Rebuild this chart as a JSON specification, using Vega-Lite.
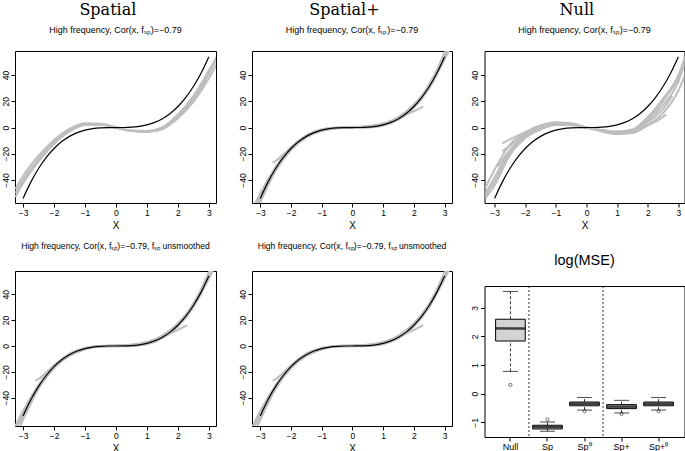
{
  "$schema": "https://vega.github.io/schema/vega-lite/v6.json",
  "background": "white",
  "padding": {"left": 0, "top": 1, "right": 0, "bottom": 0},
  "config": {
    "view": {"stroke": "black", "strokeWidth": 1},
    "axis": {"domain": false, "grid": false, "tickColor": "black", "tickSize": 4, "labelColor": "black", "labelFont": "Liberation Sans", "labelFontSize": 8.5, "labelOverlap": false, "titleFont": "Liberation Sans", "titleFontWeight": "normal", "titleColor": "black", "titleFontSize": 10},
    "axisY": {"labelAngle": -90, "labelPadding": 1, "labelOverlap": false},
    "axisX": {"labelPadding": 1.5, "titlePadding": 3, "labelAngle": 0, "labelOverlap": false},
    "title": {"font": "Liberation Sans", "fontSize": 8.6, "fontWeight": "normal", "color": "black", "anchor": "middle", "frame": "group", "subtitleFont": "Liberation Sans", "subtitleFontSize": 9, "subtitleColor": "black"}
  },
  "datasets": {
    "truth": [{"x":-3,"y":-54},{"x":-2.75,"y":-41.6},{"x":-2.5,"y":-31.25},{"x":-2.25,"y":-22.8},{"x":-2,"y":-16},{"x":-1.75,"y":-10.7},{"x":-1.5,"y":-6.75},{"x":-1.25,"y":-3.9},{"x":-1,"y":-2},{"x":-0.75,"y":-0.84},{"x":-0.5,"y":-0.25},{"x":-0.25,"y":-0.03},{"x":0,"y":0},{"x":0.25,"y":0.03},{"x":0.5,"y":0.25},{"x":0.75,"y":0.84},{"x":1,"y":2},{"x":1.25,"y":3.9},{"x":1.5,"y":6.75},{"x":1.75,"y":10.7},{"x":2,"y":16},{"x":2.25,"y":22.8},{"x":2.5,"y":31.25},{"x":2.75,"y":41.6},{"x":3,"y":54}],
    "sp": [
      {"r":1,"x":-3.25,"y":-50},{"r":1,"x":-3,"y":-40},{"r":1,"x":-2.5,"y":-24},{"r":1,"x":-2,"y":-11},{"r":1,"x":-1.5,"y":-2},{"r":1,"x":-1,"y":2.6},{"r":1,"x":-0.5,"y":2.5},{"r":1,"x":0,"y":0},{"r":1,"x":0.5,"y":-2.5},{"r":1,"x":1,"y":-3},{"r":1,"x":1.5,"y":-0.5},{"r":1,"x":2,"y":8.5},{"r":1,"x":2.5,"y":22},{"r":1,"x":3,"y":41},{"r":1,"x":3.25,"y":52},
      {"r":2,"x":-3.25,"y":-47},{"r":2,"x":-3,"y":-37},{"r":2,"x":-2.5,"y":-21.5},{"r":2,"x":-2,"y":-9.5},{"r":2,"x":-1.5,"y":-1},{"r":2,"x":-1,"y":3.2},{"r":2,"x":-0.5,"y":2.8},{"r":2,"x":0,"y":0.2},{"r":2,"x":0.5,"y":-2.7},{"r":2,"x":1,"y":-3.4},{"r":2,"x":1.5,"y":-1.3},{"r":2,"x":2,"y":7},{"r":2,"x":2.5,"y":19.5},{"r":2,"x":3,"y":37.5},{"r":2,"x":3.25,"y":48},
      {"r":3,"x":-3.25,"y":-53},{"r":3,"x":-3,"y":-42.5},{"r":3,"x":-2.5,"y":-26},{"r":3,"x":-2,"y":-12.5},{"r":3,"x":-1.5,"y":-3},{"r":3,"x":-1,"y":2},{"r":3,"x":-0.5,"y":2.2},{"r":3,"x":0,"y":-0.2},{"r":3,"x":0.5,"y":-2.3},{"r":3,"x":1,"y":-2.6},{"r":3,"x":1.5,"y":0.3},{"r":3,"x":2,"y":10},{"r":3,"x":2.5,"y":24},{"r":3,"x":3,"y":43.5},{"r":3,"x":3.25,"y":54},
      {"r":4,"x":-2.9,"y":-37},{"r":4,"x":-2.5,"y":-24.5},{"r":4,"x":-2,"y":-11.5},{"r":4,"x":-1.5,"y":-2.5},{"r":4,"x":-1,"y":2.4},{"r":4,"x":-0.5,"y":2.4},{"r":4,"x":0,"y":0},{"r":4,"x":0.5,"y":-2.4},{"r":4,"x":1,"y":-2.9},{"r":4,"x":1.5,"y":-0.6},{"r":4,"x":2,"y":8.2},{"r":4,"x":2.5,"y":21},{"r":4,"x":2.9,"y":36}
    ],
    "spp": [
      {"r":1,"x":-3.25,"y":-66},{"r":1,"x":-3,"y":-52},{"r":1,"x":-2.5,"y":-30},{"r":1,"x":-2,"y":-15},{"r":1,"x":-1.5,"y":-6},{"r":1,"x":-1,"y":-1.5},{"r":1,"x":-0.5,"y":-0.3},{"r":1,"x":0,"y":0},{"r":1,"x":0.5,"y":0.5},{"r":1,"x":1,"y":2.5},{"r":1,"x":1.5,"y":7.5},{"r":1,"x":2,"y":17},{"r":1,"x":2.5,"y":33},{"r":1,"x":3,"y":56},{"r":1,"x":3.25,"y":70},
      {"r":2,"x":-3.25,"y":-62},{"r":2,"x":-3,"y":-50},{"r":2,"x":-2.5,"y":-30.5},{"r":2,"x":-2,"y":-16.5},{"r":2,"x":-1.5,"y":-7.5},{"r":2,"x":-1,"y":-2.5},{"r":2,"x":-0.5,"y":-0.5},{"r":2,"x":0,"y":0},{"r":2,"x":0.5,"y":0.2},{"r":2,"x":1,"y":1.5},{"r":2,"x":1.5,"y":6},{"r":2,"x":2,"y":15},{"r":2,"x":2.5,"y":30},{"r":2,"x":3,"y":52},{"r":2,"x":3.25,"y":64},
      {"r":3,"x":-3.25,"y":-70},{"r":3,"x":-3,"y":-57},{"r":3,"x":-2.5,"y":-33},{"r":3,"x":-2,"y":-17},{"r":3,"x":-1.5,"y":-7},{"r":3,"x":-1,"y":-2},{"r":3,"x":-0.5,"y":0},{"r":3,"x":0,"y":0.5},{"r":3,"x":0.5,"y":1},{"r":3,"x":1,"y":3},{"r":3,"x":1.5,"y":8},{"r":3,"x":2,"y":17.5},{"r":3,"x":2.5,"y":32},{"r":3,"x":3,"y":53},{"r":3,"x":3.25,"y":66},
      {"r":4,"x":-2.6,"y":-27},{"r":4,"x":-2.5,"y":-25.5},{"r":4,"x":-2,"y":-15},{"r":4,"x":-1.5,"y":-6},{"r":4,"x":-1,"y":-1.5},{"r":4,"x":-0.5,"y":0},{"r":4,"x":0,"y":0.3},{"r":4,"x":0.5,"y":1},{"r":4,"x":1,"y":3},{"r":4,"x":1.5,"y":7},{"r":4,"x":2,"y":12.5},{"r":4,"x":2.3,"y":16},
      {"r":5,"x":-3.1,"y":-60},{"r":5,"x":-3,"y":-54.5},{"r":5,"x":-2.5,"y":-32},{"r":5,"x":-2,"y":-17},{"r":5,"x":-1.5,"y":-7.5},{"r":5,"x":-1,"y":-2.5},{"r":5,"x":-0.5,"y":-0.5},{"r":5,"x":0,"y":-0.3},{"r":5,"x":0.5,"y":0},{"r":5,"x":1,"y":1.5},{"r":5,"x":1.5,"y":6.5},{"r":5,"x":2,"y":16},{"r":5,"x":2.5,"y":31},{"r":5,"x":3,"y":57},{"r":5,"x":3.1,"y":62}
    ],
    "nul": [
      {"r":1,"x":-3.3,"y":-50},{"r":1,"x":-3,"y":-38},{"r":1,"x":-2.5,"y":-18},{"r":1,"x":-2,"y":-6},{"r":1,"x":-1.5,"y":0},{"r":1,"x":-1,"y":3},{"r":1,"x":-0.5,"y":2.5},{"r":1,"x":0,"y":0},{"r":1,"x":0.5,"y":-2.3},{"r":1,"x":1,"y":-4},{"r":1,"x":1.5,"y":-3},{"r":1,"x":2,"y":5},{"r":1,"x":2.5,"y":17},{"r":1,"x":3,"y":35},{"r":1,"x":3.25,"y":52},
      {"r":2,"x":-3.3,"y":-46},{"r":2,"x":-3,"y":-32},{"r":2,"x":-2.5,"y":-13},{"r":2,"x":-2,"y":-4},{"r":2,"x":-1.5,"y":1.5},{"r":2,"x":-1,"y":4},{"r":2,"x":-0.5,"y":3},{"r":2,"x":0,"y":0},{"r":2,"x":0.5,"y":-2.5},{"r":2,"x":1,"y":-4.5},{"r":2,"x":1.5,"y":-4},{"r":2,"x":2,"y":2},{"r":2,"x":2.5,"y":11},{"r":2,"x":3,"y":28},{"r":2,"x":3.25,"y":42},
      {"r":3,"x":-3.3,"y":-54},{"r":3,"x":-3,"y":-44},{"r":3,"x":-2.5,"y":-21},{"r":3,"x":-2,"y":-8},{"r":3,"x":-1.5,"y":-1.5},{"r":3,"x":-1,"y":2},{"r":3,"x":-0.5,"y":2},{"r":3,"x":0,"y":0},{"r":3,"x":0.5,"y":-2},{"r":3,"x":1,"y":-3},{"r":3,"x":1.5,"y":-1.5},{"r":3,"x":2,"y":8},{"r":3,"x":2.5,"y":22},{"r":3,"x":3,"y":40},{"r":3,"x":3.25,"y":56},
      {"r":4,"x":-2.75,"y":-12},{"r":4,"x":-2.5,"y":-9},{"r":4,"x":-2,"y":-3.5},{"r":4,"x":-1.5,"y":1.5},{"r":4,"x":-1,"y":3.5},{"r":4,"x":-0.5,"y":3},{"r":4,"x":0,"y":0},{"r":4,"x":0.5,"y":-3},{"r":4,"x":1,"y":-5},{"r":4,"x":1.5,"y":-4},{"r":4,"x":2,"y":1.5},{"r":4,"x":2.3,"y":5},{"r":4,"x":2.6,"y":10},
      {"r":5,"x":-2.9,"y":-30},{"r":5,"x":-2.5,"y":-17},{"r":5,"x":-2,"y":-7},{"r":5,"x":-1.5,"y":-0.5},{"r":5,"x":-1,"y":3},{"r":5,"x":-0.5,"y":2.8},{"r":5,"x":0,"y":0},{"r":5,"x":0.5,"y":-2},{"r":5,"x":1,"y":-3.5},{"r":5,"x":1.5,"y":-2.5},{"r":5,"x":2,"y":6.5},{"r":5,"x":2.5,"y":20},{"r":5,"x":3,"y":38},
      {"r":6,"x":-3.3,"y":-52},{"r":6,"x":-3,"y":-41},{"r":6,"x":-2.5,"y":-20},{"r":6,"x":-2,"y":-7.5},{"r":6,"x":-1.5,"y":-1},{"r":6,"x":-1,"y":2.5},{"r":6,"x":-0.5,"y":2.2},{"r":6,"x":0,"y":0},{"r":6,"x":0.5,"y":-1.8},{"r":6,"x":1,"y":-3.3},{"r":6,"x":1.5,"y":-2},{"r":6,"x":2,"y":7},{"r":6,"x":2.5,"y":21},{"r":6,"x":3,"y":38},{"r":6,"x":3.25,"y":54},
      {"r":7,"x":-2.75,"y":-18},{"r":7,"x":-2.5,"y":-14},{"r":7,"x":-2,"y":-5},{"r":7,"x":-1.5,"y":0.5},{"r":7,"x":-1,"y":3.5},{"r":7,"x":-0.5,"y":2.6},{"r":7,"x":0,"y":0},{"r":7,"x":0.5,"y":-2.6},{"r":7,"x":1,"y":-4.2},{"r":7,"x":1.5,"y":-3.2},{"r":7,"x":2,"y":4},{"r":7,"x":2.5,"y":14},{"r":7,"x":2.8,"y":24}
    ],
    "box": [
      {"m":"Null","lo":0.78,"q1":1.84,"med":2.28,"q3":2.6,"hi":3.57},
      {"m":"Sp","lo":-1.31,"q1":-1.23,"med":-1.16,"q3":-1.1,"hi":-0.99},
      {"m":"Sp⁰","lo":-0.57,"q1":-0.42,"med":-0.35,"q3":-0.29,"hi":-0.13},
      {"m":"Sp+","lo":-0.67,"q1":-0.52,"med":-0.45,"q3":-0.38,"hi":-0.23},
      {"m":"Sp+⁰","lo":-0.57,"q1":-0.42,"med":-0.35,"q3":-0.29,"hi":-0.13}
    ],
    "out": [{"m":"Null","v":0.31},{"m":"Sp","v":-0.9},{"m":"Sp⁰","v":-0.61},{"m":"Sp+","v":-0.71},{"m":"Sp+⁰","v":-0.61}],
    "sep": [{"m":"Null"},{"m":"Sp⁰"}]
  },
  "spacing": 16.5,
  "hconcat": [
    {
      "spacing": 20,
      "hconcat": [
        {
          "spacing": 10,
          "vconcat": [
            {
              "width": 201, "height": 152,
              "title": {"text": "Spatial\u00a0\u00a0\u00a0\u200b", "subtitle": "High frequency, Cor(x, fₛₚ)=−0.79", "font": "DejaVu Serif", "fontSize": 16, "subtitlePadding": 8, "offset": 16},
              "encoding": {"x": {"field": "x", "type": "quantitative", "scale": {"domain": [-3.26, 3.23], "nice": false, "zero": false}, "axis": {"values": [-3,-2,-1,0,1,2,3], "title": "X", "labelOverlap": false}},
                           "y": {"field": "y", "type": "quantitative", "scale": {"domain": [-57.5, 58.3], "nice": false, "zero": false}, "axis": {"values": [-40,-20,0,20,40], "title": null, "labelOverlap": false}}},
              "layer": [
                {"data": {"name": "sp"}, "mark": {"type": "line", "color": "#bebebe", "strokeWidth": 2, "clip": true, "interpolate": "monotone"}, "encoding": {"detail": {"field": "r", "type": "nominal"}}},
                {"data": {"name": "truth"}, "mark": {"type": "line", "color": "black", "strokeWidth": 1.2, "clip": true, "interpolate": "monotone"}, "encoding": {}}
              ]
            },
            {
              "width": 201, "height": 155,
              "title": {"text": "High frequency, Cor(x, fₛₚ)=−0.79, fₛₚ unsmoothed", "offset": 20},
              "encoding": {"x": {"field": "x", "type": "quantitative", "scale": {"domain": [-3.26, 3.23], "nice": false, "zero": false}, "axis": {"values": [-3,-2,-1,0,1,2,3], "title": "X", "labelOverlap": false}},
                           "y": {"field": "y", "type": "quantitative", "scale": {"domain": [-61.8, 57.9], "nice": false, "zero": false}, "axis": {"values": [-40,-20,0,20,40], "title": null, "labelOverlap": false}}},
              "layer": [
                {"data": {"name": "spp"}, "mark": {"type": "line", "color": "#bebebe", "strokeWidth": 2, "clip": true, "interpolate": "monotone"}, "encoding": {"detail": {"field": "r", "type": "nominal"}}},
                {"data": {"name": "truth"}, "mark": {"type": "line", "color": "black", "strokeWidth": 1.2, "clip": true, "interpolate": "monotone"}, "encoding": {}}
              ]
            }
          ]
        },
        {
          "spacing": 10,
          "vconcat": [
            {
              "width": 200, "height": 152,
              "title": {"text": "Spatial+\u00a0\u00a0\u00a0\u200b", "subtitle": "High frequency, Cor(x, fₛₚ)=−0.79", "font": "DejaVu Serif", "fontSize": 16, "subtitlePadding": 8, "offset": 16},
              "encoding": {"x": {"field": "x", "type": "quantitative", "scale": {"domain": [-3.27, 3.24], "nice": false, "zero": false}, "axis": {"values": [-3,-2,-1,0,1,2,3], "title": "X", "labelOverlap": false}},
                           "y": {"field": "y", "type": "quantitative", "scale": {"domain": [-57.5, 58.3], "nice": false, "zero": false}, "axis": {"values": [-40,-20,0,20,40], "title": null, "labelOverlap": false}}},
              "layer": [
                {"data": {"name": "spp"}, "mark": {"type": "line", "color": "#bebebe", "strokeWidth": 2, "clip": true, "interpolate": "monotone"}, "encoding": {"detail": {"field": "r", "type": "nominal"}}},
                {"data": {"name": "truth"}, "mark": {"type": "line", "color": "black", "strokeWidth": 1.2, "clip": true, "interpolate": "monotone"}, "encoding": {}}
              ]
            },
            {
              "width": 200, "height": 155,
              "title": {"text": "High frequency, Cor(x, fₛₚ)=−0.79, fₛₚ unsmoothed", "offset": 20},
              "encoding": {"x": {"field": "x", "type": "quantitative", "scale": {"domain": [-3.27, 3.24], "nice": false, "zero": false}, "axis": {"values": [-3,-2,-1,0,1,2,3], "title": "X", "labelOverlap": false}},
                           "y": {"field": "y", "type": "quantitative", "scale": {"domain": [-61.8, 57.9], "nice": false, "zero": false}, "axis": {"values": [-40,-20,0,20,40], "title": null, "labelOverlap": false}}},
              "layer": [
                {"data": {"name": "spp"}, "mark": {"type": "line", "color": "#bebebe", "strokeWidth": 2, "clip": true, "interpolate": "monotone"}, "encoding": {"detail": {"field": "r", "type": "nominal"}}},
                {"data": {"name": "truth"}, "mark": {"type": "line", "color": "black", "strokeWidth": 1.2, "clip": true, "interpolate": "monotone"}, "encoding": {}}
              ]
            }
          ]
        }
      ]
    },
    {
      "spacing": 10,
      "vconcat": [
        {
          "width": 200, "height": 152,
          "title": {"text": "Null\u00a0\u00a0\u00a0\u200b", "subtitle": "High frequency, Cor(x, fₛₚ)=−0.79", "font": "DejaVu Serif", "fontSize": 16, "subtitlePadding": 8, "offset": 16},
          "encoding": {"x": {"field": "x", "type": "quantitative", "scale": {"domain": [-3.33, 3.2], "nice": false, "zero": false}, "axis": {"values": [-3,-2,-1,0,1,2,3], "title": "X", "labelOverlap": false}},
                       "y": {"field": "y", "type": "quantitative", "scale": {"domain": [-57.5, 58.3], "nice": false, "zero": false}, "axis": {"values": [-40,-20,0,20,40], "title": null, "labelOverlap": false}}},
          "layer": [
            {"data": {"name": "nul"}, "mark": {"type": "line", "color": "#bebebe", "strokeWidth": 2, "clip": true, "interpolate": "monotone"}, "encoding": {"detail": {"field": "r", "type": "nominal"}}},
            {"data": {"name": "truth"}, "mark": {"type": "line", "color": "black", "strokeWidth": 1.2, "clip": true, "interpolate": "monotone"}, "encoding": {}}
          ]
        },
        {
          "width": 200, "height": 151,
          "title": {"text": ["", "log(MSE)"], "fontSize": 14.5, "lineHeight": 11, "offset": 17},
          "encoding": {"x": {"field": "m", "type": "nominal", "scale": {"domain": ["Null", "Sp", "Sp⁰", "Sp+", "Sp+⁰"], "paddingInner": 0.2, "paddingOuter": 0.3}, "axis": {"title": null, "labelFontSize": 9, "labelOverlap": false}}},
          "layer": [
            {"data": {"name": "sep"}, "mark": {"type": "rule", "color": "black", "strokeWidth": 0.8, "strokeDash": [2, 2], "xOffset": 3.7},
             "encoding": {"x": {"field": "m", "type": "nominal", "bandPosition": 1, "scale": {"domain": ["Null", "Sp", "Sp⁰", "Sp+", "Sp+⁰"], "paddingInner": 0.2, "paddingOuter": 0.3}, "axis": {"title": null, "labelFontSize": 9, "labelOverlap": false}}}},
            {"data": {"name": "box"}, "mark": {"type": "rule", "color": "black", "strokeWidth": 0.8, "strokeDash": [3, 2]},
             "encoding": {"y": {"field": "lo", "type": "quantitative", "scale": {"domain": [-1.51, 3.76], "nice": false, "zero": false}, "axis": {"values": [-1,0,1,2,3], "title": null, "labelOverlap": false}}, "y2": {"field": "q1"}}},
            {"data": {"name": "box"}, "mark": {"type": "rule", "color": "black", "strokeWidth": 0.8, "strokeDash": [3, 2]},
             "encoding": {"y": {"field": "q3", "type": "quantitative", "scale": {"domain": [-1.51, 3.76], "nice": false, "zero": false}, "axis": {"values": [-1,0,1,2,3], "title": null, "labelOverlap": false}}, "y2": {"field": "hi"}}},
            {"data": {"name": "box"}, "mark": {"type": "tick", "color": "black", "size": 15, "thickness": 1},
             "encoding": {"y": {"field": "lo", "type": "quantitative", "scale": {"domain": [-1.51, 3.76], "nice": false, "zero": false}, "axis": {"values": [-1,0,1,2,3], "title": null, "labelOverlap": false}}}},
            {"data": {"name": "box"}, "mark": {"type": "tick", "color": "black", "size": 15, "thickness": 1},
             "encoding": {"y": {"field": "hi", "type": "quantitative", "scale": {"domain": [-1.51, 3.76], "nice": false, "zero": false}, "axis": {"values": [-1,0,1,2,3], "title": null, "labelOverlap": false}}}},
            {"data": {"name": "box"}, "mark": {"type": "bar", "fill": "#d3d3d3", "stroke": "black", "strokeWidth": 1},
             "encoding": {"y": {"field": "q1", "type": "quantitative", "scale": {"domain": [-1.51, 3.76], "nice": false, "zero": false}, "axis": {"values": [-1,0,1,2,3], "title": null, "labelOverlap": false}}, "y2": {"field": "q3"}}},
            {"data": {"name": "box"}, "mark": {"type": "tick", "color": "black", "size": 29.6, "thickness": 2.5},
             "encoding": {"y": {"field": "med", "type": "quantitative", "scale": {"domain": [-1.51, 3.76], "nice": false, "zero": false}, "axis": {"values": [-1,0,1,2,3], "title": null, "labelOverlap": false}}}},
            {"data": {"name": "out"}, "mark": {"type": "point", "filled": false, "color": "black", "size": 10, "strokeWidth": 0.8},
             "encoding": {"y": {"field": "v", "type": "quantitative", "scale": {"domain": [-1.51, 3.76], "nice": false, "zero": false}, "axis": {"values": [-1,0,1,2,3], "title": null, "labelOverlap": false}}}}
          ]
        }
      ]
    }
  ]
}
